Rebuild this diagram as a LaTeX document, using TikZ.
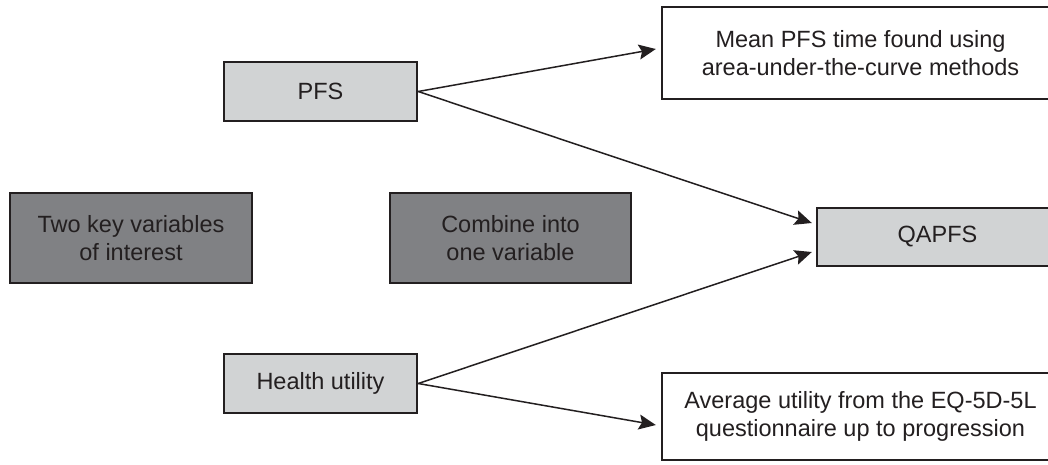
\documentclass[tikz,border=0pt]{standalone}
\usepackage{fontspec}
\setmainfont{Liberation Sans}
\usetikzlibrary{arrows.meta}
\definecolor{ink}{HTML}{231F20}
\definecolor{darkfill}{HTML}{808184}
\definecolor{lightfill}{HTML}{D1D3D4}
\tikzset{
  box/.style={draw=ink, line width=2.4pt, text=ink, align=center, inner sep=0pt,
    font=\fontsize{23.5}{27.5}\selectfont},
  darkbox/.style={box, fill=darkfill},
  lightbox/.style={box, fill=lightfill},
  whitebox/.style={box, fill=white},
  conn/.style={draw=ink, line width=1.5pt, -{Stealth[length=17pt,width=15pt,inset=3pt]}}
}
\begin{document}
\begin{tikzpicture}[x=1pt,y=-1pt]
\useasboundingbox (0,0) rectangle (1048,464);
\clip (0,0) rectangle (1048,464);
\fill[white] (0,0) rectangle (1048,464);
\node[darkbox, minimum width=242, minimum height=90] (two) at (131,238) {Two key variables\\of interest};
\node[darkbox, minimum width=241, minimum height=90] (comb) at (510.5,238) {Combine into\\one variable};
\node[lightbox, minimum width=193, minimum height=59] (pfs) at (320.5,91.5) {PFS};
\node[lightbox, minimum width=193, minimum height=59] (health) at (320.5,383.5) {Health utility};
\node[whitebox, minimum width=397, minimum height=92] (mean) at (860.5,53) {Mean PFS time found using\\area-under-the-curve methods};
\node[lightbox, minimum width=241, minimum height=58] (qapfs) at (937.5,237) {QAPFS};
\node[whitebox, minimum width=397, minimum height=87] (avg) at (860.5,416.5) {Average utility from the EQ-5D-5L\\questionnaire up to progression};
\draw[conn] (pfs.east) -- ([shift={(-5,-4)}]mean.west);
\draw[conn] (pfs.east) -- ([shift={(-4,-14)}]qapfs.west);
\draw[conn] (health.east) -- ([shift={(-4,15)}]qapfs.west);
\draw[conn] (health.east) -- ([shift={(-5,8.5)}]avg.west);
\end{tikzpicture}
\end{document}
